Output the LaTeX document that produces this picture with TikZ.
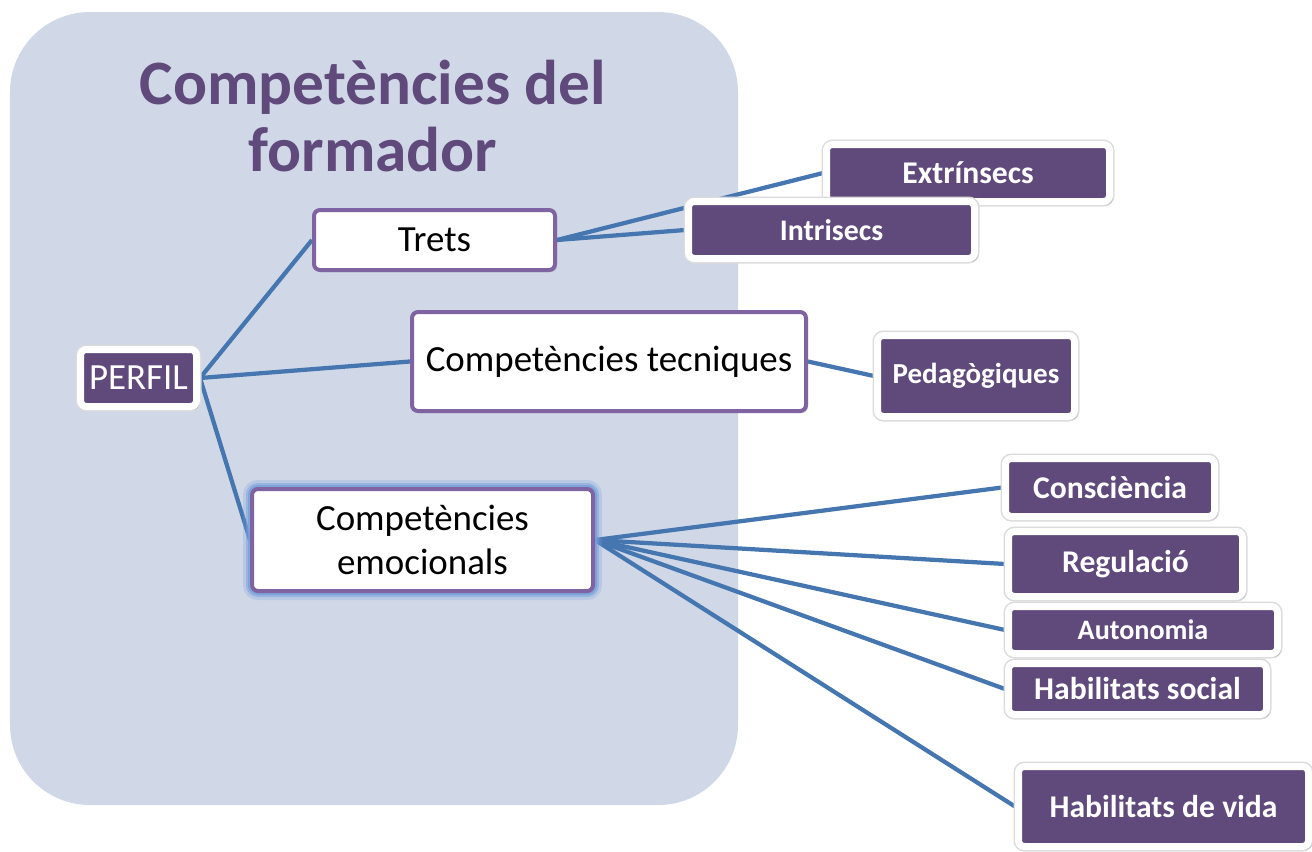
\documentclass[tikz,border=0pt]{standalone}
\usepackage{fontspec}
\setmainfont{Carlito}
\usetikzlibrary{shadows,backgrounds}

\definecolor{PanelBlue}{RGB}{208,216,232}
\definecolor{DeepPurple}{RGB}{96,74,123}
\definecolor{FramePurple}{RGB}{128,100,162}
\definecolor{LinkBlue}{RGB}{70,118,176}
\definecolor{GlowBlue}{RGB}{120,160,220}

\tikzset{
  leaf/.style={draw=white,fill=DeepPurple,line width=0.14cm,rounded corners=0.12cm,
    text=white,font=\bfseries\fontsize{18}{20}\selectfont,inner sep=0pt,
    preaction={draw=black!14,line width=0.2cm},
    drop shadow={opacity=0.3,shadow xshift=1.8pt,shadow yshift=-1.8pt}},
  branch/.style={draw=FramePurple,fill=white,line width=0.08cm,rounded corners=0.12cm,
    font=\fontsize{21}{25}\selectfont,inner sep=0pt,align=center,
    drop shadow={opacity=0.25,shadow xshift=1.2pt,shadow yshift=-1.2pt}},
  link/.style={draw=LinkBlue,line width=0.085cm}
}

\begin{document}
\begin{tikzpicture}

		\useasboundingbox (0,0) rectangle (26.24,-17.02);

		\begin{scope}[on background layer]
		\fill[PanelBlue,rounded corners=1.6cm] (0.2,-0.24) rectangle (14.76,-16.1);
		\end{scope}

		\node[text=DeepPurple,font=\bfseries\fontsize{36}{38.5}\selectfont,align=center] (Title) at (7.46,-2.32) {Competències del\\formador};

		\node[leaf,font=\fontsize{21}{25}\selectfont,minimum width=2.32cm,minimum height=1.14cm] (Perfil) at (2.77,-7.56) {PERFIL};

		\node[branch,minimum width=4.82cm,minimum height=1.2cm] (Trets) at (8.69,-4.8) {Trets};
		\node[branch,minimum width=7.88cm,minimum height=1.98cm] (Tecniques) at (12.18,-7.23) {Competències tecniques};
		\node[branch,minimum width=6.82cm,minimum height=2.04cm,
		      preaction={draw=GlowBlue,line width=0.36cm,opacity=0.25},
		      preaction={draw=GlowBlue,line width=0.24cm,opacity=0.5},
		      preaction={draw=GlowBlue,line width=0.16cm,opacity=0.8}] (Emocionals) at (8.45,-10.8) {Competències\\emocionals};

		\node[leaf,minimum width=5.66cm,minimum height=1.14cm] (Extrinsecs) at (19.36,-3.46) {Extrínsecs};
		\node[leaf,font=\bfseries\fontsize{17}{19}\selectfont,minimum width=5.72cm,minimum height=1.14cm] (Intrisecs) at (16.63,-4.6) {Intrisecs};

		\node[leaf,font=\bfseries\fontsize{16.5}{19}\selectfont,minimum width=3.94cm,minimum height=1.62cm] (Pedagogiques) at (19.52,-7.52) {Pedagògiques};

		\node[leaf,minimum width=4.18cm,minimum height=1.16cm] (Consciencia) at (22.2,-9.75) {Consciència};
		\node[leaf,minimum width=4.68cm,minimum height=1.3cm] (Regulacio) at (22.51,-11.28) {Regulació};
		\node[leaf,font=\bfseries\fontsize{16}{18}\selectfont,minimum width=5.38cm,minimum height=0.94cm] (Autonomia) at (22.86,-12.6) {Autonomia};
		\node[leaf,minimum width=5.16cm,minimum height=1.02cm] (Social) at (22.75,-13.78) {Habilitats social};
		\node[leaf,minimum width=5.8cm,minimum height=1.6cm] (Vida) at (23.27,-16.13) {Habilitats de vida};

		\begin{scope}[on background layer]
		\draw[link] (Perfil.east) to (Trets.west);
		\draw[link] (Perfil.east) to (Tecniques.west);
		\draw[link] (Perfil.east) to (Emocionals.west);

		\draw[link] (Trets.east) to (Extrinsecs.west);
		\draw[link] (Trets.east) to (Intrisecs.west);

		\draw[link] (Tecniques.east) to (Pedagogiques.west);

		\draw[link] (Emocionals.east) to (Consciencia.west);
		\draw[link] (Emocionals.east) to (Regulacio.west);
		\draw[link] (Emocionals.east) to (Autonomia.west);
		\draw[link] (Emocionals.east) to (Social.west);
		\draw[link] (Emocionals.east) to (Vida.west);
		\end{scope}
	\end{tikzpicture}
\end{document}
